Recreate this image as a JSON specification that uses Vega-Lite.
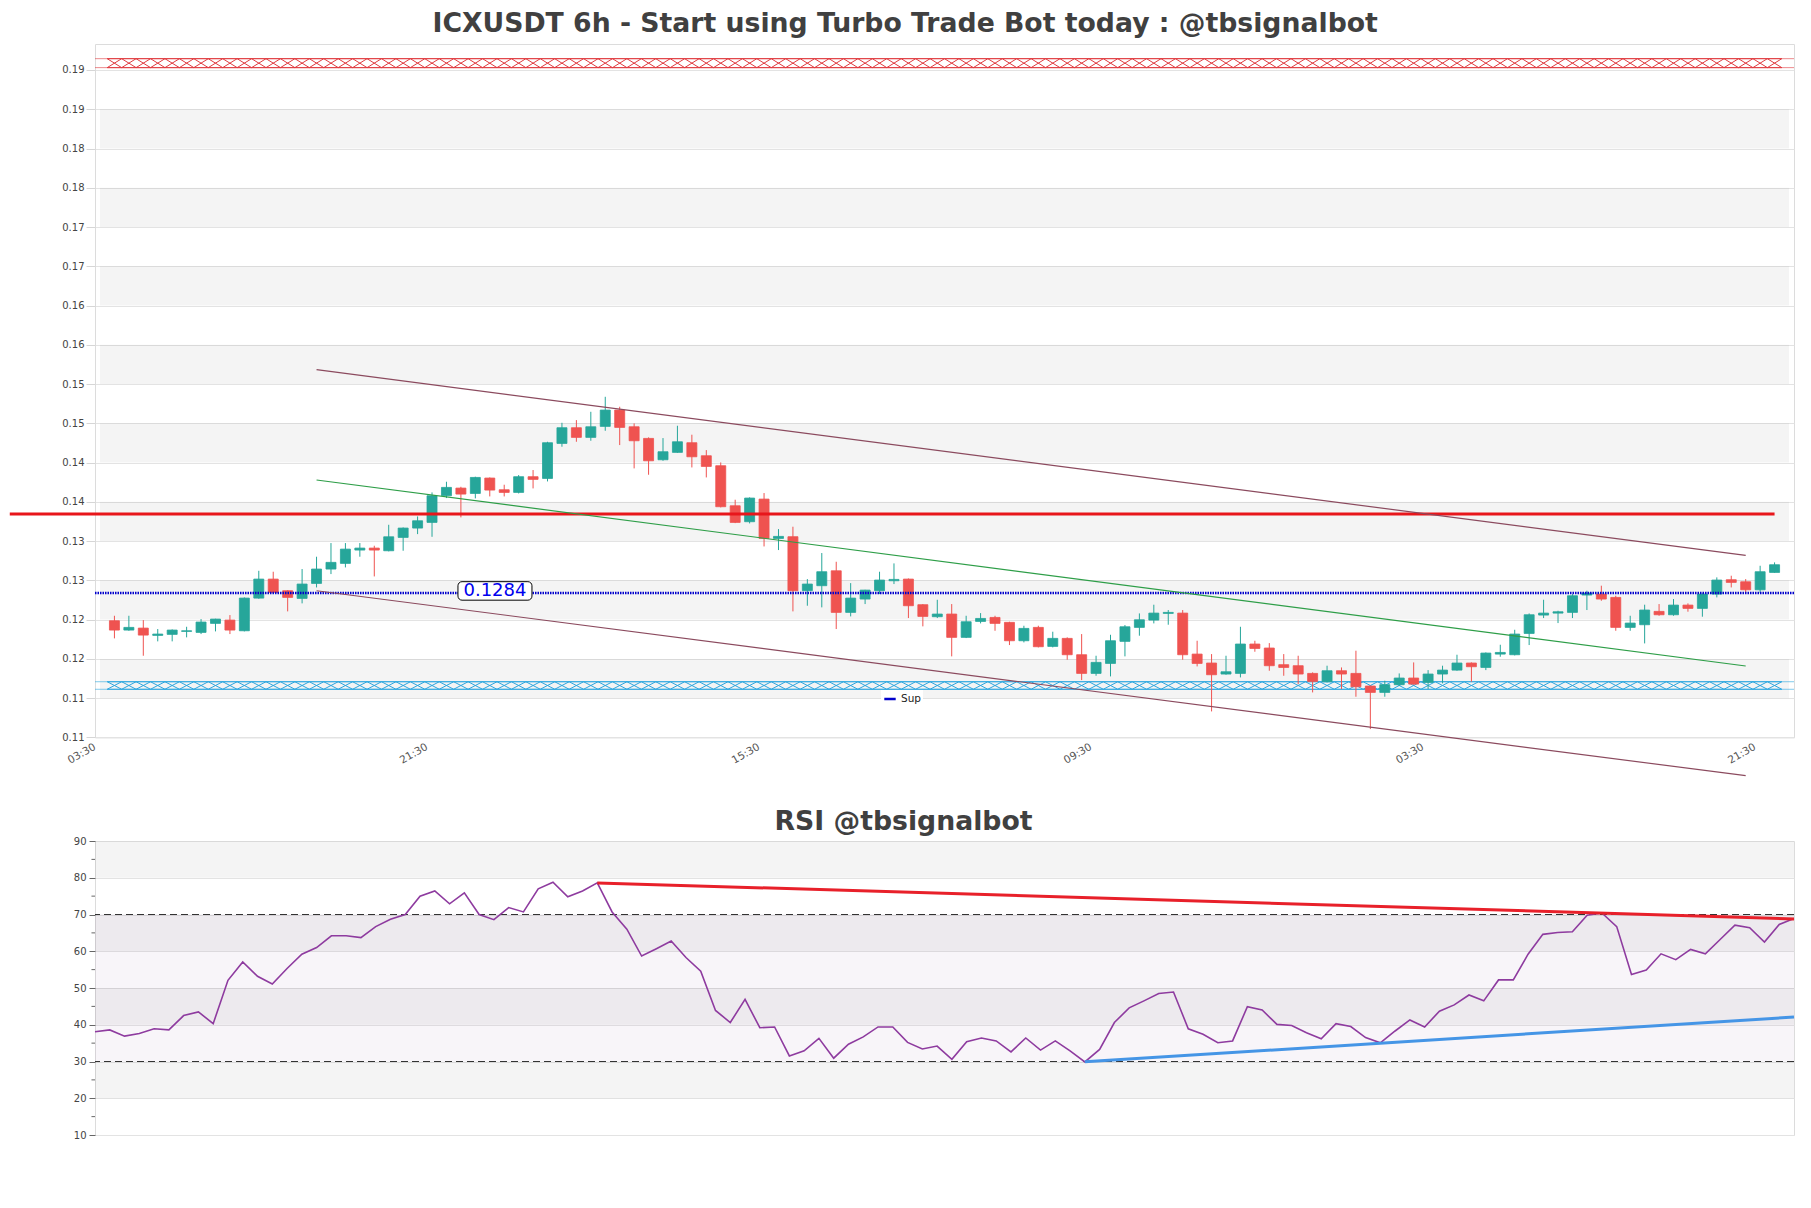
{
  "$schema": "https://vega.github.io/schema/vega-lite/v6.json",
  "background": "white",
  "padding": {"left": 7, "top": 10, "right": 0, "bottom": 0},
  "config": {
    "font": "DejaVu Sans",
    "view": {"stroke": "#dcdcdc", "strokeWidth": 1},
    "title": {"font": "DejaVu Sans", "fontWeight": "bold", "fontSize": 26.7, "color": "#404040"}
  },
  "title": {"text": "ICXUSDT 6h - Start using Turbo Trade Bot today : @tbsignalbot", "anchor": "middle", "offset": 6, "dx": 1},
  "spacing": 29,
  "resolve": {"scale": {"color": "independent"}, "legend": {"color": "independent"}},
  "datasets": {
    "priceBands": [{"lo":0.115,"hi":0.12},{"lo":0.125,"hi":0.13},{"lo":0.135,"hi":0.14},{"lo":0.145,"hi":0.15},{"lo":0.155,"hi":0.16},{"lo":0.165,"hi":0.17},{"lo":0.175,"hi":0.18},{"lo":0.185,"hi":0.19}],
    "rsiBands": [{"lo":20,"hi":30},{"lo":40,"hi":50},{"lo":60,"hi":70},{"lo":80,"hi":90}],
    "rsiMinor": [{"v":15},{"v":25},{"v":35},{"v":45},{"v":55},{"v":65},{"v":75},{"v":85}],
    "trend": [{"name":"upper","i":14,"price":0.15683},{"name":"upper","i":113,"price":0.13318},{"name":"mid","i":14,"price":0.14278},{"name":"mid","i":113,"price":0.11909},{"name":"lower","i":14,"price":0.12868},{"name":"lower","i":113,"price":0.10512}],
    "rsiTrend": [{"name":"res","i":34,"rsi":78.6},{"name":"res","i":115,"rsi":68.8},{"name":"sup","i":67,"rsi":29.9},{"name":"sup","i":115,"rsi":42.1}],
    "candles": [
      {"i":0,"o":0.12486,"h":0.12549,"l":0.12261,"c":0.12367,"rsi":38.1},
      {"i":1,"o":0.12367,"h":0.12549,"l":0.12358,"c":0.12401,"rsi":38.6},
      {"i":2,"o":0.12392,"h":0.12494,"l":0.1204,"c":0.12303,"rsi":36.9},
      {"i":3,"o":0.12299,"h":0.1238,"l":0.12223,"c":0.12316,"rsi":37.6},
      {"i":4,"o":0.12312,"h":0.12375,"l":0.12223,"c":0.12367,"rsi":38.9},
      {"i":5,"o":0.1235,"h":0.12409,"l":0.12274,"c":0.12358,"rsi":38.6},
      {"i":6,"o":0.12337,"h":0.12507,"l":0.12316,"c":0.12469,"rsi":42.5},
      {"i":7,"o":0.12452,"h":0.12511,"l":0.1235,"c":0.12507,"rsi":43.5},
      {"i":8,"o":0.12494,"h":0.12558,"l":0.12316,"c":0.12367,"rsi":40.3},
      {"i":9,"o":0.12358,"h":0.12783,"l":0.1235,"c":0.12774,"rsi":52.1},
      {"i":10,"o":0.12774,"h":0.13122,"l":0.12766,"c":0.13016,"rsi":57.1},
      {"i":11,"o":0.13016,"h":0.1311,"l":0.12834,"c":0.12847,"rsi":53.2},
      {"i":12,"o":0.12868,"h":0.12876,"l":0.12605,"c":0.12783,"rsi":51.1},
      {"i":13,"o":0.1277,"h":0.13144,"l":0.12707,"c":0.12953,"rsi":55.3},
      {"i":14,"o":0.12961,"h":0.13301,"l":0.1291,"c":0.13144,"rsi":59.2},
      {"i":15,"o":0.13144,"h":0.13475,"l":0.1308,"c":0.13229,"rsi":61.0},
      {"i":16,"o":0.13216,"h":0.13475,"l":0.13165,"c":0.13398,"rsi":64.2},
      {"i":17,"o":0.13386,"h":0.13475,"l":0.13301,"c":0.13411,"rsi":64.2},
      {"i":18,"o":0.13411,"h":0.13441,"l":0.1305,"c":0.13386,"rsi":63.7},
      {"i":19,"o":0.13377,"h":0.13708,"l":0.13369,"c":0.13555,"rsi":66.7},
      {"i":20,"o":0.13547,"h":0.13674,"l":0.13377,"c":0.13666,"rsi":68.7},
      {"i":21,"o":0.13666,"h":0.13814,"l":0.13589,"c":0.13759,"rsi":70.0},
      {"i":22,"o":0.13738,"h":0.1412,"l":0.13555,"c":0.14078,"rsi":75.0},
      {"i":23,"o":0.14078,"h":0.14256,"l":0.14048,"c":0.14184,"rsi":76.4},
      {"i":24,"o":0.14175,"h":0.14192,"l":0.13802,"c":0.14099,"rsi":72.9},
      {"i":25,"o":0.14107,"h":0.1432,"l":0.14044,"c":0.14311,"rsi":75.9},
      {"i":26,"o":0.14303,"h":0.14311,"l":0.14069,"c":0.1415,"rsi":70.0},
      {"i":27,"o":0.14154,"h":0.14218,"l":0.14069,"c":0.1412,"rsi":68.6},
      {"i":28,"o":0.1412,"h":0.14341,"l":0.14107,"c":0.1432,"rsi":71.9},
      {"i":29,"o":0.1432,"h":0.14405,"l":0.14171,"c":0.14286,"rsi":70.7},
      {"i":30,"o":0.14298,"h":0.14765,"l":0.1426,"c":0.14753,"rsi":77.0},
      {"i":31,"o":0.14744,"h":0.15007,"l":0.14702,"c":0.14944,"rsi":78.8},
      {"i":32,"o":0.14944,"h":0.15041,"l":0.14765,"c":0.14821,"rsi":74.8},
      {"i":33,"o":0.14821,"h":0.15147,"l":0.14778,"c":0.14956,"rsi":76.4},
      {"i":34,"o":0.14961,"h":0.15338,"l":0.14905,"c":0.15169,"rsi":78.6},
      {"i":35,"o":0.15169,"h":0.15211,"l":0.14723,"c":0.14948,"rsi":70.7},
      {"i":36,"o":0.14956,"h":0.14999,"l":0.14426,"c":0.14778,"rsi":66.0},
      {"i":37,"o":0.14808,"h":0.14821,"l":0.14345,"c":0.14523,"rsi":58.7},
      {"i":38,"o":0.14536,"h":0.14812,"l":0.14523,"c":0.14638,"rsi":60.7},
      {"i":39,"o":0.1463,"h":0.14969,"l":0.14625,"c":0.14765,"rsi":62.8},
      {"i":40,"o":0.14753,"h":0.14855,"l":0.14438,"c":0.14574,"rsi":58.3},
      {"i":41,"o":0.14587,"h":0.14659,"l":0.14311,"c":0.14451,"rsi":54.6},
      {"i":42,"o":0.1446,"h":0.14502,"l":0.13929,"c":0.13938,"rsi":43.9},
      {"i":43,"o":0.1395,"h":0.14027,"l":0.13729,"c":0.13738,"rsi":40.6},
      {"i":44,"o":0.13747,"h":0.14057,"l":0.13725,"c":0.14048,"rsi":46.9},
      {"i":45,"o":0.14035,"h":0.14112,"l":0.13432,"c":0.13534,"rsi":39.2},
      {"i":46,"o":0.13534,"h":0.13653,"l":0.13386,"c":0.1356,"rsi":39.4},
      {"i":47,"o":0.13556,"h":0.13683,"l":0.12605,"c":0.12868,"rsi":31.5},
      {"i":48,"o":0.12868,"h":0.13016,"l":0.12677,"c":0.12953,"rsi":32.9},
      {"i":49,"o":0.12932,"h":0.13348,"l":0.12656,"c":0.1311,"rsi":36.3},
      {"i":50,"o":0.13122,"h":0.13237,"l":0.1238,"c":0.12592,"rsi":30.9},
      {"i":51,"o":0.12592,"h":0.12965,"l":0.12541,"c":0.12774,"rsi":34.7},
      {"i":52,"o":0.12762,"h":0.1288,"l":0.12698,"c":0.12876,"rsi":36.7},
      {"i":53,"o":0.12868,"h":0.1311,"l":0.12825,"c":0.13004,"rsi":39.4},
      {"i":54,"o":0.12995,"h":0.13216,"l":0.12953,"c":0.13012,"rsi":39.4},
      {"i":55,"o":0.13016,"h":0.13024,"l":0.1252,"c":0.12677,"rsi":35.2},
      {"i":56,"o":0.1269,"h":0.12698,"l":0.12414,"c":0.12541,"rsi":33.4},
      {"i":57,"o":0.12537,"h":0.12753,"l":0.1252,"c":0.12571,"rsi":34.2},
      {"i":58,"o":0.12571,"h":0.12698,"l":0.12032,"c":0.12274,"rsi":30.6},
      {"i":59,"o":0.12274,"h":0.12549,"l":0.12265,"c":0.12473,"rsi":35.4},
      {"i":60,"o":0.12477,"h":0.12583,"l":0.12452,"c":0.12515,"rsi":36.4},
      {"i":61,"o":0.12528,"h":0.12549,"l":0.12358,"c":0.12452,"rsi":35.6},
      {"i":62,"o":0.12465,"h":0.12473,"l":0.12176,"c":0.12231,"rsi":32.6},
      {"i":63,"o":0.12231,"h":0.12422,"l":0.1221,"c":0.12388,"rsi":36.4},
      {"i":64,"o":0.12401,"h":0.12422,"l":0.12146,"c":0.12155,"rsi":33.1},
      {"i":65,"o":0.12159,"h":0.12346,"l":0.12146,"c":0.12261,"rsi":35.6},
      {"i":66,"o":0.12261,"h":0.12274,"l":0.11989,"c":0.12053,"rsi":32.9},
      {"i":67,"o":0.12053,"h":0.12316,"l":0.1173,"c":0.11815,"rsi":29.9},
      {"i":68,"o":0.11815,"h":0.1204,"l":0.11785,"c":0.11955,"rsi":33.3},
      {"i":69,"o":0.11942,"h":0.12307,"l":0.11777,"c":0.12231,"rsi":40.6},
      {"i":70,"o":0.12223,"h":0.12431,"l":0.12032,"c":0.12409,"rsi":44.6},
      {"i":71,"o":0.12401,"h":0.12579,"l":0.12295,"c":0.12498,"rsi":46.5},
      {"i":72,"o":0.12494,"h":0.1269,"l":0.12452,"c":0.12583,"rsi":48.5},
      {"i":73,"o":0.12579,"h":0.12622,"l":0.12435,"c":0.12592,"rsi":48.9},
      {"i":74,"o":0.12583,"h":0.12622,"l":0.11989,"c":0.12053,"rsi":38.9},
      {"i":75,"o":0.12061,"h":0.12231,"l":0.11904,"c":0.11942,"rsi":37.4},
      {"i":76,"o":0.11947,"h":0.12061,"l":0.11331,"c":0.11798,"rsi":35.1},
      {"i":77,"o":0.11807,"h":0.1204,"l":0.11798,"c":0.11836,"rsi":35.6},
      {"i":78,"o":0.11815,"h":0.12409,"l":0.11764,"c":0.12189,"rsi":44.9},
      {"i":79,"o":0.12189,"h":0.12231,"l":0.12091,"c":0.12133,"rsi":44.0},
      {"i":80,"o":0.12138,"h":0.12201,"l":0.11849,"c":0.11913,"rsi":40.1},
      {"i":81,"o":0.11926,"h":0.12061,"l":0.11785,"c":0.11891,"rsi":39.8},
      {"i":82,"o":0.11913,"h":0.1204,"l":0.11679,"c":0.11807,"rsi":37.8},
      {"i":83,"o":0.11815,"h":0.11828,"l":0.11573,"c":0.11713,"rsi":36.2},
      {"i":84,"o":0.11709,"h":0.11913,"l":0.117,"c":0.11849,"rsi":40.3},
      {"i":85,"o":0.11849,"h":0.11891,"l":0.11616,"c":0.11807,"rsi":39.5},
      {"i":86,"o":0.11815,"h":0.12104,"l":0.11518,"c":0.11645,"rsi":36.5},
      {"i":87,"o":0.11654,"h":0.11658,"l":0.11106,"c":0.11573,"rsi":35.1},
      {"i":88,"o":0.11573,"h":0.11722,"l":0.11518,"c":0.11671,"rsi":38.3},
      {"i":89,"o":0.11671,"h":0.11815,"l":0.11658,"c":0.11756,"rsi":41.3},
      {"i":90,"o":0.11756,"h":0.11955,"l":0.11671,"c":0.11679,"rsi":39.4},
      {"i":91,"o":0.117,"h":0.11857,"l":0.11616,"c":0.11807,"rsi":43.7},
      {"i":92,"o":0.11807,"h":0.11913,"l":0.11688,"c":0.11857,"rsi":45.4},
      {"i":93,"o":0.11857,"h":0.12053,"l":0.11849,"c":0.11947,"rsi":48.1},
      {"i":94,"o":0.11947,"h":0.11955,"l":0.11709,"c":0.119,"rsi":46.5},
      {"i":95,"o":0.11891,"h":0.12082,"l":0.11857,"c":0.12074,"rsi":52.2},
      {"i":96,"o":0.12061,"h":0.1218,"l":0.12027,"c":0.12082,"rsi":52.2},
      {"i":97,"o":0.12053,"h":0.12371,"l":0.12044,"c":0.12316,"rsi":59.2},
      {"i":98,"o":0.12324,"h":0.12579,"l":0.12176,"c":0.12562,"rsi":64.6},
      {"i":99,"o":0.12558,"h":0.12753,"l":0.1252,"c":0.12583,"rsi":65.1},
      {"i":100,"o":0.12583,"h":0.12613,"l":0.12456,"c":0.126,"rsi":65.3},
      {"i":101,"o":0.12592,"h":0.12825,"l":0.1252,"c":0.12804,"rsi":69.8},
      {"i":102,"o":0.12813,"h":0.12868,"l":0.12622,"c":0.12838,"rsi":70.4},
      {"i":103,"o":0.12825,"h":0.12932,"l":0.1274,"c":0.12762,"rsi":66.7},
      {"i":104,"o":0.12783,"h":0.12804,"l":0.12358,"c":0.12401,"rsi":53.7},
      {"i":105,"o":0.12401,"h":0.12549,"l":0.12358,"c":0.12456,"rsi":54.9},
      {"i":106,"o":0.12435,"h":0.1269,"l":0.12197,"c":0.12622,"rsi":59.3},
      {"i":107,"o":0.12605,"h":0.12698,"l":0.12549,"c":0.12562,"rsi":57.7},
      {"i":108,"o":0.12562,"h":0.12762,"l":0.12549,"c":0.12685,"rsi":60.5},
      {"i":109,"o":0.12685,"h":0.12707,"l":0.12601,"c":0.12643,"rsi":59.3},
      {"i":110,"o":0.12643,"h":0.12834,"l":0.12537,"c":0.12825,"rsi":63.2},
      {"i":111,"o":0.12825,"h":0.13038,"l":0.12783,"c":0.13004,"rsi":67.1},
      {"i":112,"o":0.13008,"h":0.13059,"l":0.1291,"c":0.12974,"rsi":66.4},
      {"i":113,"o":0.12982,"h":0.13016,"l":0.12846,"c":0.1288,"rsi":62.5},
      {"i":114,"o":0.1288,"h":0.13186,"l":0.12838,"c":0.1311,"rsi":67.3},
      {"i":115,"o":0.13101,"h":0.13229,"l":0.13097,"c":0.13199,"rsi":68.9}
    ]
  },
  "vconcat": [
    {
      "width": 1699,
      "height": 693.4,
      "layer": [
        {
          "data": {"name": "priceBands"},
          "mark": {"type": "rect", "color": "#000000", "opacity": 0.045},
          "encoding": {
            "x": {"datum": -1, "type": "quantitative", "scale": {"domain": [-1, 116], "nice": false, "zero": false},
                  "axis": {"title": null, "values": [-1, 22, 45, 68, 91, 114], "tickCount": 20, "labelExpr": "['03:30','21:30','15:30','09:30','03:30','21:30'][round((datum.value+1)/23)]", "labelAngle": -30, "labelAlign": "right", "labelBaseline": "top", "labelFontSize": 10.5, "labelColor": "#555555", "ticks": false, "domain": false, "grid": false, "labelPadding": 4, "labelOffset": -8, "labelFlush": false, "labelOverlap": false, "labelBound": false}},
            "x2": {"datum": 116},
            "y": {"field": "lo", "type": "quantitative", "scale": {"domain": [0.11, 0.19831], "nice": false, "zero": false},
                  "axis": {"title": null, "values": [0.11,0.115,0.12,0.125,0.13,0.135,0.14,0.145,0.15,0.155,0.16,0.165,0.17,0.175,0.18,0.185,0.19,0.195], "tickCount": 40, "labelExpr": "format(floor(datum.value*100+0.0001)/100,'.2f')", "labelFontSize": 10, "labelColor": "#444444", "tickSize": 9, "tickColor": "#d6d6d6", "labelPadding": 2, "domain": false, "gridColor": "#e3e3e3", "labelOverlap": false, "labelFlush": false}},
            "y2": {"field": "hi"}
          }
        },
        {
          "data": {"name": "candles"},
          "mark": {"type": "point", "shape": "M-1,-0.62L1,0.62M-1,0.62L1,-0.62M-1,-0.62L1,-0.62M-1,0.62L1,0.62", "size": 210, "filled": false, "color": "#e0393e", "strokeWidth": 1, "opacity": 1},
          "encoding": {
            "x": {"field": "i", "type": "quantitative", "scale": {"domain": [-1, 116], "nice": false, "zero": false}},
            "y": {"datum": 0.19587, "type": "quantitative", "scale": {"domain": [0.11, 0.19831], "nice": false, "zero": false}}
          }
        },
        {
          "data": {"name": "candles"},
          "mark": {"type": "point", "shape": "M-1,-0.52L1,0.52M-1,0.52L1,-0.52M-1,-0.52L1,-0.52M-1,0.52L1,0.52", "size": 210, "filled": false, "color": "#2ba6df", "strokeWidth": 1, "opacity": 1},
          "encoding": {
            "x": {"field": "i", "type": "quantitative", "scale": {"domain": [-1, 116], "nice": false, "zero": false}},
            "y": {"datum": 0.11661, "type": "quantitative", "scale": {"domain": [0.11, 0.19831], "nice": false, "zero": false}}
          }
        },
        {
          "data": {"values": [{"edge": 0.19644}, {"edge": 0.1953}]},
          "mark": {"type": "rule", "color": "#e0393e", "strokeWidth": 1, "opacity": 0.6},
          "encoding": {"y": {"field": "edge", "type": "quantitative", "scale": {"domain": [0.11, 0.19831], "nice": false, "zero": false}}}
        },
        {
          "data": {"values": [{"edge": 0.11709}, {"edge": 0.11613}]},
          "mark": {"type": "rule", "color": "#2ba6df", "strokeWidth": 1, "opacity": 0.6},
          "encoding": {"y": {"field": "edge", "type": "quantitative", "scale": {"domain": [0.11, 0.19831], "nice": false, "zero": false}}}
        },
        {
          "data": {"name": "candles"},
          "mark": {"type": "rule", "strokeWidth": 1},
          "encoding": {
            "x": {"field": "i", "type": "quantitative", "scale": {"domain": [-1, 116], "nice": false, "zero": false}},
            "y": {"field": "l", "type": "quantitative", "scale": {"domain": [0.11, 0.19831], "nice": false, "zero": false}},
            "y2": {"field": "h"},
            "color": {"condition": {"test": "datum.c >= datum.o", "value": "#26a69a"}, "value": "#ef5350"}
          }
        },
        {
          "data": {"name": "candles"},
          "mark": {"type": "bar", "size": 10, "strokeWidth": 0.8},
          "encoding": {
            "x": {"field": "i", "type": "quantitative", "scale": {"domain": [-1, 116], "nice": false, "zero": false}},
            "y": {"field": "o", "type": "quantitative", "scale": {"domain": [0.11, 0.19831], "nice": false, "zero": false}},
            "y2": {"field": "c"},
            "color": {"condition": {"test": "datum.c >= datum.o", "value": "#26a69a"}, "value": "#ef5350"},
            "stroke": {"condition": {"test": "datum.c >= datum.o", "value": "#26a69a"}, "value": "#ef5350"}
          }
        },
        {
          "data": {"values": [{"level": 0.1284}]},
          "mark": {"type": "rule", "strokeWidth": 2.5, "strokeDash": [1.5, 1]},
          "encoding": {
            "y": {"field": "level", "type": "quantitative", "scale": {"domain": [0.11, 0.19831], "nice": false, "zero": false}},
            "color": {"datum": "Sup", "type": "nominal", "scale": {"domain": ["Sup"], "range": ["#0000cc"]},
                      "legend": {"title": null, "orient": "none", "legendX": 786, "legendY": 646, "symbolType": "stroke", "symbolStrokeWidth": 2.5, "symbolSize": 130, "symbolDash": [1, 0], "labelFontSize": 10.5, "labelColor": "#222222", "fillColor": "#ffffff", "padding": 2, "labelFont": "DejaVu Sans"}}
          }
        },
        {
          "data": {"values": [{"level": 0.13845, "from": -7.25, "to": 115}]},
          "mark": {"type": "rule", "color": "#e8161b", "strokeWidth": 3, "clip": false},
          "encoding": {
            "x": {"field": "from", "type": "quantitative", "scale": {"domain": [-1, 116], "nice": false, "zero": false}},
            "x2": {"field": "to"},
            "y": {"field": "level", "type": "quantitative", "scale": {"domain": [0.11, 0.19831], "nice": false, "zero": false}}
          }
        },
        {
          "data": {"name": "trend"},
          "transform": [{"filter": "datum.name != 'mid'"}],
          "mark": {"type": "line", "color": "#8b4a5e", "strokeWidth": 1.2, "clip": false},
          "encoding": {
            "x": {"field": "i", "type": "quantitative", "scale": {"domain": [-1, 116], "nice": false, "zero": false}},
            "y": {"field": "price", "type": "quantitative", "scale": {"domain": [0.11, 0.19831], "nice": false, "zero": false}},
            "detail": {"field": "name"}
          }
        },
        {
          "data": {"name": "trend"},
          "transform": [{"filter": "datum.name == 'mid'"}],
          "mark": {"type": "line", "color": "#2e9e48", "strokeWidth": 1.2, "clip": false},
          "encoding": {
            "x": {"field": "i", "type": "quantitative", "scale": {"domain": [-1, 116], "nice": false, "zero": false}},
            "y": {"field": "price", "type": "quantitative", "scale": {"domain": [0.11, 0.19831], "nice": false, "zero": false}}
          }
        },
        {
          "data": {"values": [{"i": 26.36, "price": 0.1284, "label": "0.1284"}]},
          "mark": {"type": "point", "shape": "M-0.89,-0.25L0.89,-0.25A0.11,0.11 0 0 1 1,-0.14L1,0.14A0.11,0.11 0 0 1 0.89,0.25L-0.89,0.25A0.11,0.11 0 0 1 -1,0.14L-1,-0.14A0.11,0.11 0 0 1 -0.89,-0.25Z", "size": 5476, "filled": true, "fill": "#ffffff", "stroke": "#000000", "strokeWidth": 1, "opacity": 1, "yOffset": -2},
          "encoding": {
            "x": {"field": "i", "type": "quantitative", "scale": {"domain": [-1, 116], "nice": false, "zero": false}},
            "y": {"field": "price", "type": "quantitative", "scale": {"domain": [0.11, 0.19831], "nice": false, "zero": false}}
          }
        },
        {
          "data": {"values": [{"i": 26.36, "price": 0.1284, "label": "0.1284"}]},
          "mark": {"type": "text", "fontSize": 18, "color": "#0000ee", "font": "DejaVu Sans", "yOffset": -2},
          "encoding": {
            "x": {"field": "i", "type": "quantitative", "scale": {"domain": [-1, 116], "nice": false, "zero": false}},
            "y": {"field": "price", "type": "quantitative", "scale": {"domain": [0.11, 0.19831], "nice": false, "zero": false}},
            "text": {"field": "label"}
          }
        }
      ]
    },
    {
      "width": 1699,
      "height": 294,
      "title": {"text": "RSI @tbsignalbot", "anchor": "middle", "frame": "group", "dx": -41, "offset": 0},
      "layer": [
        {
          "data": {"name": "rsiBands"},
          "mark": {"type": "rect", "color": "#000000", "opacity": 0.045},
          "encoding": {
            "x": {"datum": 0, "type": "quantitative", "scale": {"domain": [0, 115], "nice": false, "zero": false}, "axis": null},
            "x2": {"datum": 115},
            "y": {"field": "lo", "type": "quantitative", "scale": {"domain": [10, 90], "nice": false, "zero": false},
                  "axis": {"title": null, "values": [10,20,30,40,50,60,70,80,90], "tickCount": 20, "tickSize": 6, "tickColor": "#666666", "gridColor": "#e3e3e3", "labelFontSize": 10, "labelColor": "#444444", "labelPadding": 3, "domain": false, "labelOverlap": false, "labelFlush": false}},
            "y2": {"field": "hi"}
          }
        },
        {
          "data": {"values": [{"lo": 30, "hi": 70}]},
          "mark": {"type": "rect", "color": "#9c6cb0", "opacity": 0.07},
          "encoding": {
            "x": {"datum": 0, "type": "quantitative", "scale": {"domain": [0, 115], "nice": false, "zero": false}},
            "x2": {"datum": 115},
            "y": {"field": "lo", "type": "quantitative", "scale": {"domain": [10, 90], "nice": false, "zero": false}},
            "y2": {"field": "hi"}
          }
        },
        {
          "data": {"name": "rsiMinor"},
          "mark": {"type": "rule", "color": "#666666", "strokeWidth": 1, "clip": false},
          "encoding": {
            "x": {"datum": -0.24, "type": "quantitative", "scale": {"domain": [0, 115], "nice": false, "zero": false}},
            "x2": {"datum": 0},
            "y": {"field": "v", "type": "quantitative", "scale": {"domain": [10, 90], "nice": false, "zero": false}}
          }
        },
        {
          "data": {"values": [{"level": 70}, {"level": 30}]},
          "mark": {"type": "rule", "color": "#333333", "strokeWidth": 1.2, "strokeDash": [7, 4]},
          "encoding": {"y": {"field": "level", "type": "quantitative", "scale": {"domain": [10, 90], "nice": false, "zero": false}}}
        },
        {
          "data": {"name": "candles"},
          "mark": {"type": "line", "color": "#8e3b9f", "strokeWidth": 1.6},
          "encoding": {
            "x": {"field": "i", "type": "quantitative", "scale": {"domain": [0, 115], "nice": false, "zero": false}},
            "y": {"field": "rsi", "type": "quantitative", "scale": {"domain": [10, 90], "nice": false, "zero": false}}
          }
        },
        {
          "data": {"name": "rsiTrend"},
          "transform": [{"filter": "datum.name == 'res'"}],
          "mark": {"type": "line", "color": "#e8202a", "strokeWidth": 3},
          "encoding": {
            "x": {"field": "i", "type": "quantitative", "scale": {"domain": [0, 115], "nice": false, "zero": false}},
            "y": {"field": "rsi", "type": "quantitative", "scale": {"domain": [10, 90], "nice": false, "zero": false}}
          }
        },
        {
          "data": {"name": "rsiTrend"},
          "transform": [{"filter": "datum.name == 'sup'"}],
          "mark": {"type": "line", "color": "#4595e6", "strokeWidth": 3},
          "encoding": {
            "x": {"field": "i", "type": "quantitative", "scale": {"domain": [0, 115], "nice": false, "zero": false}},
            "y": {"field": "rsi", "type": "quantitative", "scale": {"domain": [10, 90], "nice": false, "zero": false}}
          }
        }
      ]
    }
  ]
}
